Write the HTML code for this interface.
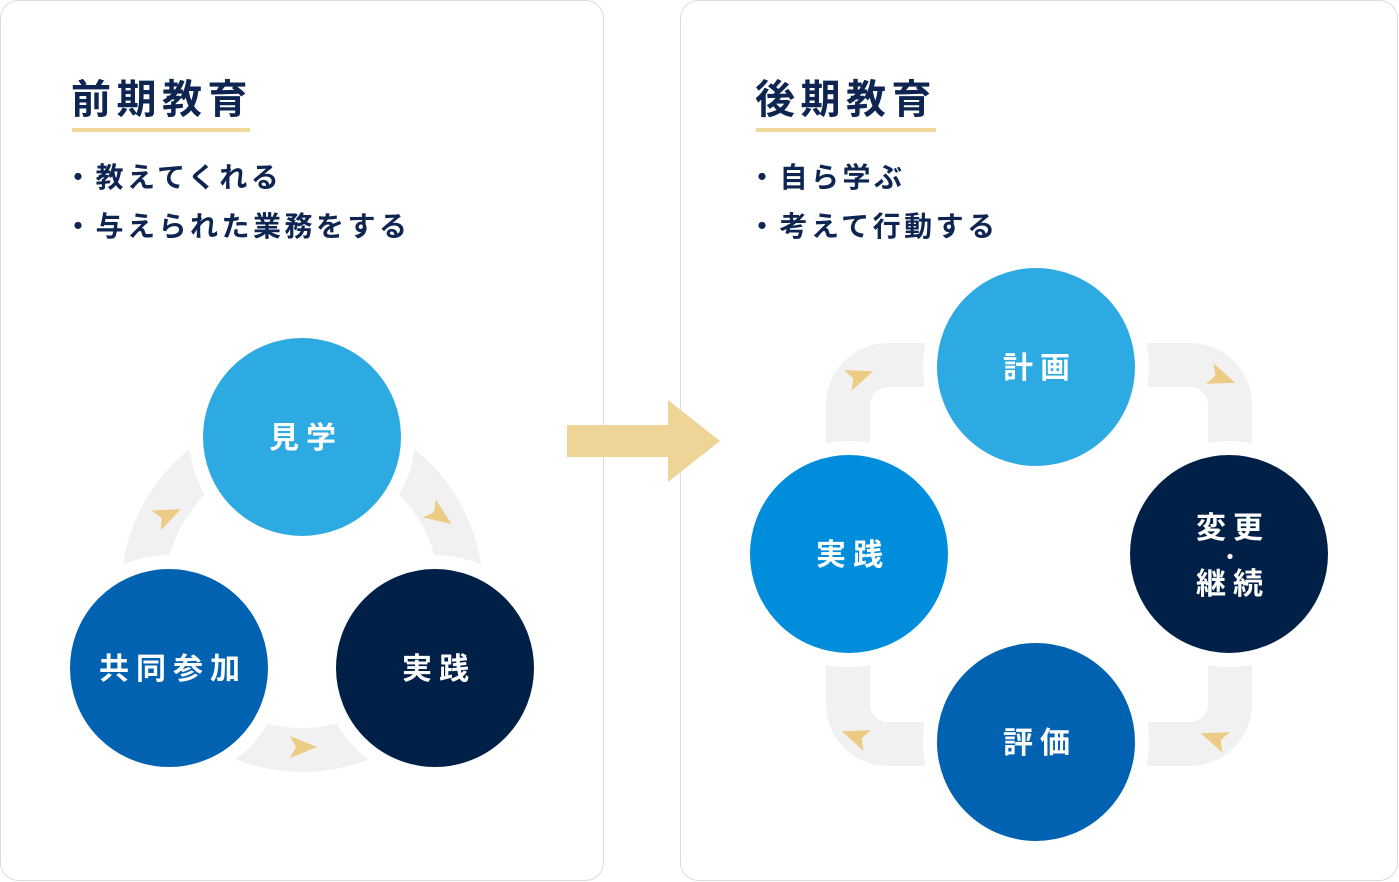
<!DOCTYPE html>
<html><head><meta charset="utf-8"><style>
body{margin:0;width:1399px;height:882px;background:#fff;overflow:hidden;font-family:"Liberation Sans","Noto Sans CJK JP",sans-serif}
</style></head><body>
<svg width="1399" height="882" viewBox="0 0 1399 882" xmlns="http://www.w3.org/2000/svg" style="position:absolute;left:0;top:0">
<g font-family="Liberation Sans, Noto Sans CJK JP, sans-serif" font-weight="bold">
<rect x="0.5" y="0.5" width="603" height="880" rx="18" fill="#fff" stroke="#dcdcdc"/>
<rect x="680.5" y="0.5" width="717" height="880" rx="18" fill="#fff" stroke="#dcdcdc"/>

<text x="71" y="113" font-size="40" fill="#0d2550" letter-spacing="5.5">前期教育</text>
<rect x="72" y="128" width="178" height="4" fill="#f0d79a"/>
<text x="64" y="187" font-size="28" fill="#0d2550" letter-spacing="3.5">・教えてくれる</text>
<text x="64" y="236" font-size="28" fill="#0d2550" letter-spacing="3.5">・与えられた業務をする</text>

<text x="755" y="113" font-size="40" fill="#0d2550" letter-spacing="5.5">後期教育</text>
<rect x="756" y="128" width="180" height="4" fill="#f0d79a"/>
<text x="748" y="187" font-size="28" fill="#0d2550" letter-spacing="3.5">・自ら学ぶ</text>
<text x="748" y="236" font-size="28" fill="#0d2550" letter-spacing="3.5">・考えて行動する</text>

<circle cx="302" cy="591" r="159" fill="none" stroke="#f1f1f1" stroke-width="44"/>
<circle cx="302" cy="437" r="106" fill="#2eaae2" stroke="#fff" stroke-width="14"/>
<circle cx="169" cy="668" r="106" fill="#0062b0" stroke="#fff" stroke-width="14"/>
<circle cx="435" cy="668" r="106" fill="#002048" stroke="#fff" stroke-width="14"/>
<g fill="#eccb85">
<polygon points="-13,-11 14,0 -13,11 -7,0" transform="translate(303,747)"/>
<polygon points="-13,-11 14,0 -13,11 -7,0" transform="translate(168,515) rotate(-25)"/>
<polygon points="-13,-11 14,0 -13,11 -7,0" transform="translate(440,516) rotate(35)"/>
</g>
<g fill="#fff" font-size="30" text-anchor="middle" letter-spacing="7">
<text x="306" y="448">見学</text>
<text x="173" y="679">共同参加</text>
<text x="439" y="679">実践</text>
</g>

<polygon points="567,425 668,425 668,400 720,441 668,482 668,457 567,457" fill="#efd498"/>

<rect x="848" y="365" width="382" height="379" rx="40" fill="none" stroke="#f1f1f1" stroke-width="44"/>
<circle cx="1036" cy="367" r="106" fill="#2eaae2" stroke="#fff" stroke-width="14"/>
<circle cx="849" cy="554" r="106" fill="#008ddb" stroke="#fff" stroke-width="14"/>
<circle cx="1229" cy="554" r="106" fill="#002048" stroke="#fff" stroke-width="14"/>
<circle cx="1036" cy="742" r="106" fill="#0062b0" stroke="#fff" stroke-width="14"/>
<g fill="#eccb85">
<polygon points="-13,-11 14,0 -13,11 -7,0" transform="translate(860,376) rotate(-20)"/>
<polygon points="-13,-11 14,0 -13,11 -7,0" transform="translate(1222,378) rotate(20)"/>
<polygon points="-13,-11 14,0 -13,11 -7,0" transform="translate(855,736) rotate(200)"/>
<polygon points="-13,-11 14,0 -13,11 -7,0" transform="translate(1214,738) rotate(-160)"/>
</g>
<g fill="#fff" font-size="30" text-anchor="middle" letter-spacing="7">
<text x="1040" y="378">計画</text>
<text x="853" y="565">実践</text>
<text x="1233" y="538">変更</text>
<text x="1230" y="564" font-size="20" letter-spacing="0">・</text>
<text x="1233" y="594">継続</text>
<text x="1040" y="753">評価</text>
</g>
</g>
</svg>
</body></html>
